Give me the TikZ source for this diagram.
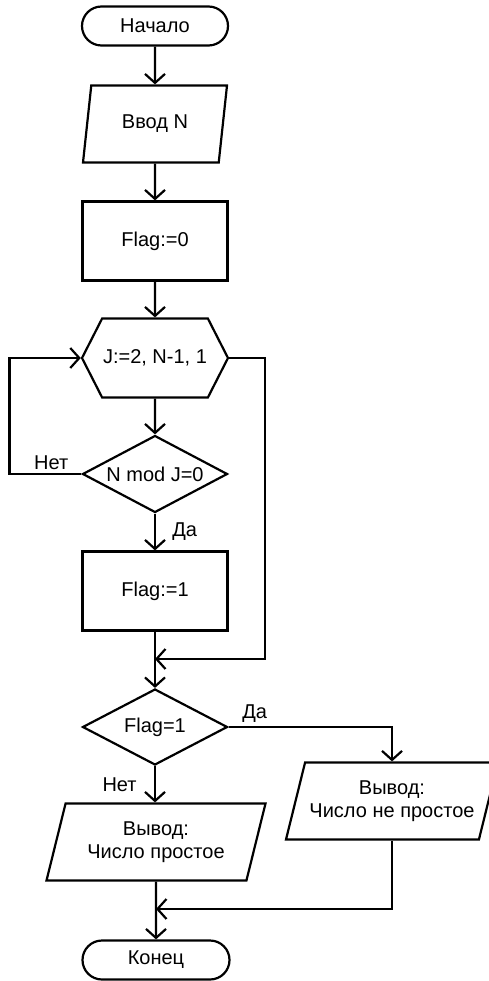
\documentclass[tikz,border=0pt]{standalone}
\usepackage{fontspec}
\setmainfont{Liberation Sans}
\usetikzlibrary{calc,positioning,shapes.geometric,shapes.misc,shapes.symbols,arrows.meta}

\begin{document}
\begin{tikzpicture}[x=1pt,y=-1pt,font=\fontsize{20pt}{23pt}\selectfont,
      term/.style={draw,line width=2.2pt,rounded rectangle,minimum width=146pt,minimum height=39pt,inner sep=0pt},
      io/.style={draw,line width=2.2pt,trapezium,trapezium left angle=65,trapezium right angle=115,trapezium stretches body=true,minimum height=77pt,align=center,inner sep=0pt},
      proc/.style={draw,line width=2.2pt,minimum width=145pt,minimum height=79pt,inner sep=0pt},
      cyc/.style={draw,line width=2.2pt,signal,signal to=west and east,signal pointer angle=126,minimum width=146pt,minimum height=79pt,inner sep=0pt},
      cond/.style={draw,line width=2.2pt,diamond,aspect=2,minimum width=145pt,minimum height=77pt,inner sep=0pt},
      arr/.style={-{Straight Barb[length=9pt,width=20pt]},line width=2.2pt}]
      \useasboundingbox (0,0) rectangle (489,981);
      \node[term] (start) at (155,26) {Начало};
      \node[io,minimum width=144pt] (inp) at (155,124) {Ввод N};
      \node[proc] (init) at (155,241) {Flag:=0};
      \node[cyc] (loop) at (155,358) {J:=2, N-1, 1};
      \node[cond] (test) at (155,474) {N mod J=0};
      \node[proc] (set) at (155,591) {Flag:=1};
      \node[cond,minimum height=76pt] (check) at (155,727) {Flag=1};
      \node[io,minimum width=212pt] (yes) at (392,801) {Вывод:\\Число не простое};
      \node[io,minimum width=219pt] (no) at (156,842) {Вывод:\\Число простое};
      \node[term,minimum width=147pt] (stop) at (156,960) {Конец};
      \coordinate (m1) at (155,659);
      \coordinate (m2) at (156,909);
      \draw[arr] (start) -- (inp); \draw[arr] (inp) -- (init); \draw[arr] (init) -- (loop);
      \draw[arr] (loop) -- (test);
      \draw[arr] (test) -- node[right=13pt] {Да} (set);
      \draw[arr] (test.west) -- node[pos=0.42,above] {Нет} ++(-72,0) |- (loop.west);
      \draw[arr] (loop.east) -- ++(36,0) |- (m1);
      \draw[arr] (set) -- (check);
      \draw[arr] (check.east) -| node[pos=0.08,above] {Да} (yes.north);
      \draw[arr] (check.south) -- node[left=14pt] {Нет} (no.north -| check.south);
      \draw[arr] (yes.south) |- (m2);
      \draw[arr] (no) -- (stop);
    \end{tikzpicture}
\end{document}
